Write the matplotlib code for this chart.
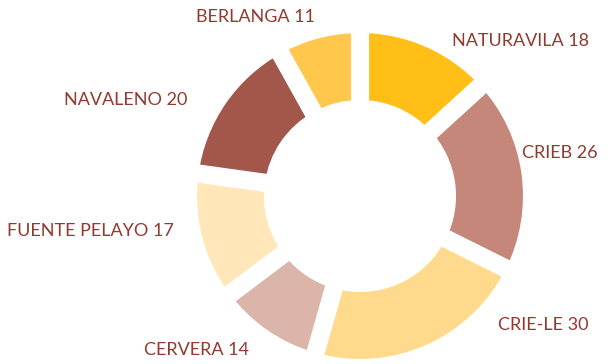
import matplotlib.pyplot as plt

# Participants per centre
centres = ["NATURAVILA", "CRIEB", "CRIE-LE", "CERVERA", "FUENTE PELAYO", "NAVALENO", "BERLANGA"]
counts = [18, 26, 30, 14, 17, 20, 11]
colors = ["#FFBF17", "#C4877A", "#FFDA8C", "#DBB4AA", "#FFE7BA", "#A3574A", "#FFC84D"]

# Label anchor points (pixel space, origin top-left)
label_pos = [(521, 41), (560, 153), (543, 325), (197, 350), (90, 231), (126, 100), (255, 17)]

W, H = 613, 364
fig = plt.figure(figsize=(W / 100, H / 100), dpi=100)
ax = fig.add_axes([0, 0, 1, 1])
ax.set_xlim(0, W)
ax.set_ylim(0, H)
ax.set_aspect("equal")
ax.axis("off")

cx, cy = 360, H - 196
ax.pie(counts, colors=colors, startangle=90, counterclock=False,
       radius=172, center=(cx, cy),
       wedgeprops=dict(width=85, edgecolor="white", linewidth=13))
ax.set_xlim(0, W)
ax.set_ylim(0, H)

for name, n, (x, y) in zip(centres, counts, label_pos):
    ax.text(x, H - y, f"{name} {n}", ha="center", va="center",
            fontsize=13, color="#93392F", family=["Lato", "DejaVu Sans"])

fig.savefig("out.png", dpi=100)
